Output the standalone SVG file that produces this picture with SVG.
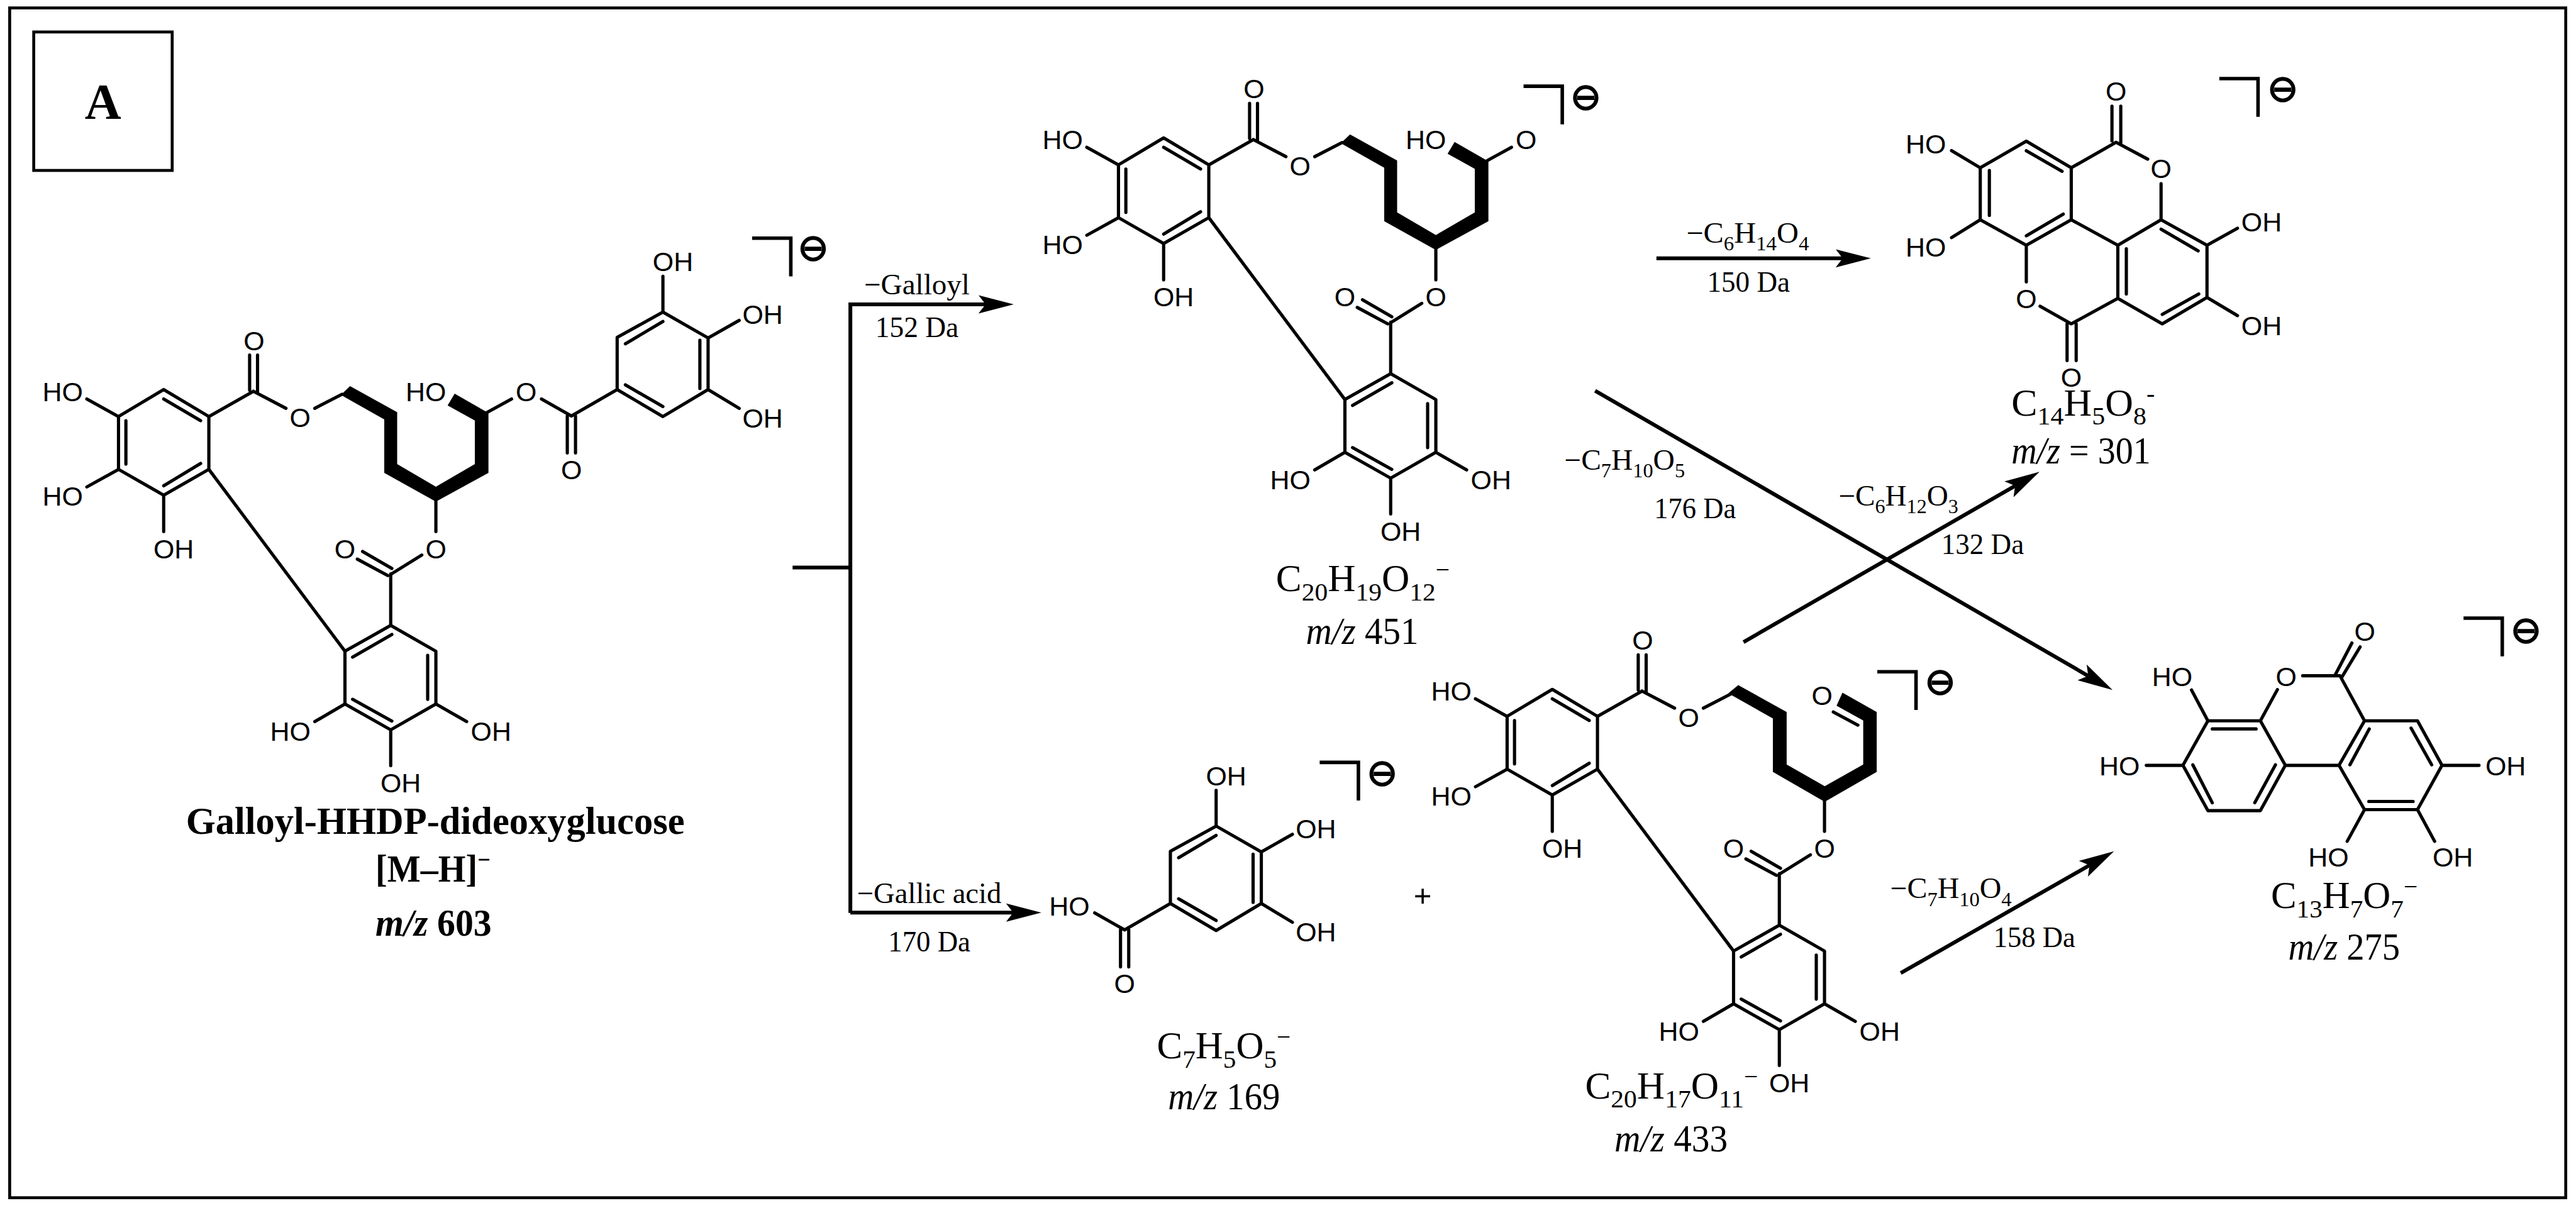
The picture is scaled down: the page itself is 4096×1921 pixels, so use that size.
<svg xmlns="http://www.w3.org/2000/svg" width="4096" height="1921" viewBox="0 0 4096 1921">
<style>
.b{fill:none;stroke:#000;stroke-width:5.5;stroke-linecap:round;stroke-linejoin:round}
.k{fill:#000;stroke:none}
.c{fill:none;stroke:#000;stroke-width:6.5}
.cd{fill:none;stroke:#000;stroke-width:6.5;marker-end:url(#head)}
text{fill:#000}
.a{font-family:"Liberation Sans",Arial,sans-serif;font-size:46px;text-anchor:middle}
.m{font-family:"DejaVu Sans",sans-serif;font-size:63px;text-anchor:middle;stroke:#000;stroke-width:2}
.f{font-family:"Liberation Serif","Times New Roman",serif;font-size:65px}
.l{font-family:"Liberation Serif","Times New Roman",serif;font-size:50px}
.sb{font-size:44px}
.ss{font-size:34px}
.up{font-size:42px}
.i{font-style:italic}
.w{font-weight:bold}
</style>
<defs>
<marker id="head" markerUnits="userSpaceOnUse" markerWidth="64" markerHeight="36" refX="12" refY="18" orient="auto"><path d="M0,2.5 L60,18 L0,33.5 L12,18Z" fill="#000"/></marker>
<path id="hhdp" class="b" d="M279,664 L356,710 L356,800 L279,844 L202,800 L202,710Z M279,680 L342,717 M214.6,717 L214.6,791 M279,828 L342,790 M202,710 L148,680 M202,800 L148,830 M279,844 L279,906 M356,800 L588,1110 M356,710 L432,667 M425.5,605 L425.5,665 M439,605 L439,668 M432,667 L487.5,696 M536.5,696 L583,672 M743,854 L743,906 M719,946 L666,979 M618,940 L668,969 M609,953 L661,981 M666,978 L666,1066 L743,1110 L743,1200 L666,1244 L588,1200 L588,1110 L666,1066 M668,1081.5 L601,1120 M729,1117 L729,1192 M668,1229 L601,1192 M743,1200 L795.5,1230 M588,1200 L536.5,1230 M666,1244 L666,1305"/>
<path id="chain" class="k" d="M596.7,658 L677,702.7 L677,791 L743,829.6 L809.4,791 L809.4,716.7 L763,691 L775,671 L832.6,704 L832.6,806 L743,855 L655,806 L655,715 L581,673Z"/>
<path id="gal" class="b" d="M1052,664 L1052,575 L1130,532 L1207,576 L1207,664 L1130,710Z M1066,586 L1130,548 M1193,580 L1193,662 M1066,656 L1130,693 M1130,532 L1130,471 M1207,576 L1260,546 M1207,664 L1260,696 M974,709 L1052,664 M923,680 L974,709 M967,709 L967,772 M981,709 L981,772"/>
<path id="brk" fill="none" stroke="#000" stroke-width="6" d="M-66,0 H0 V65"/>
</defs>
<g transform="scale(0.93282,0.93298)">
<rect x="0" y="0" width="4391" height="2059" fill="#fff"/>
<rect x="16.5" y="13.5" width="4357" height="2028" fill="none" stroke="#000" stroke-width="5"/>
<g id="panel-label">
<rect x="57.5" y="54.5" width="236" height="236" fill="none" stroke="#000" stroke-width="5"/>
<text class="f w" x="175.5" y="203" text-anchor="middle" style="font-size:86px">A</text>
</g>

<g id="connectors">
<path class="c" d="M1351,967.3 H1449"/>
<path class="cd" d="M1449.5,1556 V518.7 H1680"/>
<path class="cd" d="M1449.5,1555.5 H1727"/>
<path class="cd" d="M2823.5,440.3 H3141"/>
<path class="cd" d="M2719,666 L3559.5,1152"/>
<path class="cd" d="M2972,1094.4 L3434.9,828"/>
<path class="cd" d="M3240,1658.5 L3561.8,1474.8"/>
<text class="l" x="1473" y="502" textLength="180" lengthAdjust="spacingAndGlyphs">−Galloyl</text>
<text class="l" x="1492" y="574" textLength="142" lengthAdjust="spacingAndGlyphs">152 Da</text>
<text class="l" x="1461" y="1538.8" textLength="246" lengthAdjust="spacingAndGlyphs">−Gallic acid</text>
<text class="l" x="1514" y="1622" textLength="140" lengthAdjust="spacingAndGlyphs">170 Da</text>
<text class="l" x="2874.5" y="413.5" textLength="209" lengthAdjust="spacingAndGlyphs">−C<tspan class="ss" dy="13">6</tspan><tspan dy="-13">H</tspan><tspan class="ss" dy="13">14</tspan><tspan dy="-13">O</tspan><tspan class="ss" dy="13">4</tspan></text>
<text class="l" x="2910" y="497.7" textLength="141" lengthAdjust="spacingAndGlyphs">150 Da</text>
<text class="l" x="2666.5" y="801" textLength="205.5" lengthAdjust="spacingAndGlyphs">−C<tspan class="ss" dy="13">7</tspan><tspan dy="-13">H</tspan><tspan class="ss" dy="13">10</tspan><tspan dy="-13">O</tspan><tspan class="ss" dy="13">5</tspan></text>
<text class="l" x="2819.6" y="883" textLength="139.4" lengthAdjust="spacingAndGlyphs">176 Da</text>
<text class="l" x="3134" y="862" textLength="204" lengthAdjust="spacingAndGlyphs">−C<tspan class="ss" dy="13">6</tspan><tspan dy="-13">H</tspan><tspan class="ss" dy="13">12</tspan><tspan dy="-13">O</tspan><tspan class="ss" dy="13">3</tspan></text>
<text class="l" x="3309" y="944" textLength="141" lengthAdjust="spacingAndGlyphs">132 Da</text>
<text class="l" x="3222" y="1531" textLength="207" lengthAdjust="spacingAndGlyphs">−C<tspan class="ss" dy="13">7</tspan><tspan dy="-13">H</tspan><tspan class="ss" dy="13">10</tspan><tspan dy="-13">O</tspan><tspan class="ss" dy="13">4</tspan></text>
<text class="l" x="3398" y="1614" textLength="139.5" lengthAdjust="spacingAndGlyphs">158 Da</text>
</g>

<g id="mol-603">
<use href="#hhdp"/><use href="#chain"/><use href="#gal"/>
<path class="b" d="M830,703 L872,680"/>
<text class="a" x="107" y="683.5">HO</text><text class="a" x="107" y="861.5">HO</text><text class="a" x="296" y="951.5">OH</text>
<text class="a" x="433" y="596.5">O</text><text class="a" x="511.5" y="728">O</text><text class="a" x="726" y="683.5">HO</text><text class="a" x="897" y="683.5">O</text>
<text class="a" x="743" y="951.5">O</text><text class="a" x="588" y="951.5">O</text><text class="a" x="495" y="1262.5">HO</text><text class="a" x="837" y="1262.5">OH</text><text class="a" x="683" y="1350.5">OH</text>
<text class="a" x="974" y="816.5">O</text><text class="a" x="1147" y="462.5">OH</text><text class="a" x="1300" y="552.5">OH</text><text class="a" x="1300" y="728.5">OH</text>
<use href="#brk" x="1348" y="406"/><text class="m" x="1386" y="444">⊖</text>
<text class="f w" x="317" y="1421.7" textLength="850" lengthAdjust="spacingAndGlyphs">Galloyl-HHDP-dideoxyglucose</text>
<text class="f w" x="640" y="1503" textLength="196" lengthAdjust="spacingAndGlyphs">[M–H]<tspan class="up" dy="-24">−</tspan></text>
<text class="f w" x="640" y="1595" textLength="198" lengthAdjust="spacingAndGlyphs"><tspan class="i">m/z</tspan> 603</text>
</g>

<g id="mol-451">
<g transform="translate(1704.5,-429)">
<use href="#hhdp"/><use href="#chain"/>
<path class="b" d="M830,703 L872,680"/>
<text class="a" x="107" y="683.5">HO</text><text class="a" x="107" y="861.5">HO</text><text class="a" x="296" y="951.5">OH</text>
<text class="a" x="433" y="596.5">O</text><text class="a" x="511.5" y="728">O</text><text class="a" x="726" y="683.5">HO</text><text class="a" x="897" y="683.5">O</text>
<text class="a" x="743" y="951.5">O</text><text class="a" x="588" y="951.5">O</text><text class="a" x="495" y="1262.5">HO</text><text class="a" x="837" y="1262.5">OH</text><text class="a" x="683" y="1350.5">OH</text>
</g>
<use href="#brk" x="2663" y="147"/><text class="m" x="2703" y="187">⊖</text>
<text class="f" x="2175" y="1007.7" textLength="296" lengthAdjust="spacingAndGlyphs">C<tspan class="sb" dy="16">20</tspan><tspan dy="-16">H</tspan><tspan class="sb" dy="16">19</tspan><tspan dy="-16">O</tspan><tspan class="sb" dy="16">12</tspan><tspan class="up" dy="-39">−</tspan></text>
<text class="f" x="2226" y="1098" textLength="192" lengthAdjust="spacingAndGlyphs"><tspan class="i">m/z</tspan> 451</text>
</g>

<g id="mol-169">
<g transform="translate(943,876)">
<use href="#gal"/>
<text class="a" x="880" y="685">HO</text>
<text class="a" x="974" y="816.5">O</text><text class="a" x="1147" y="462.5">OH</text><text class="a" x="1300" y="552.5">OH</text><text class="a" x="1300" y="728.5">OH</text>
</g>
<use href="#brk" x="2315.5" y="1299.5"/><text class="m" x="2356" y="1339">⊖</text>
<text class="f" x="1972" y="1804" textLength="228" lengthAdjust="spacingAndGlyphs">C<tspan class="sb" dy="16">7</tspan><tspan dy="-16">H</tspan><tspan class="sb" dy="16">5</tspan><tspan dy="-16">O</tspan><tspan class="sb" dy="16">5</tspan><tspan class="up" dy="-39">−</tspan></text>
<text class="f" x="1991" y="1891" textLength="191" lengthAdjust="spacingAndGlyphs"><tspan class="i">m/z</tspan> 169</text>
</g>

<text class="f w" x="2425" y="1546" text-anchor="middle" style="font-size:55px">+</text>

<g id="mol-433">
<g transform="translate(2367,511)">
<use href="#hhdp"/>
<text class="a" x="107" y="683.5">HO</text><text class="a" x="107" y="861.5">HO</text><text class="a" x="296" y="951.5">OH</text>
<text class="a" x="433" y="596.5">O</text><text class="a" x="511.5" y="728">O</text><text class="a" x="738.8" y="690.5">O</text>
<text class="a" x="743" y="951.5">O</text><text class="a" x="588" y="951.5">O</text><text class="a" x="495" y="1262.5">HO</text><text class="a" x="837" y="1262.5">OH</text><text class="a" x="683" y="1350.5">OH</text>
</g>
<path class="k" d="M3140.6,1180.5 L3199,1213.6 L3199,1315.7 L3110.4,1366.7 L3022,1315.7 L3022,1224.5 L2946,1181.8 L2963,1167.7 L3045.5,1213.6 L3045.5,1303 L3110.4,1340 L3176,1303 L3176,1228 L3130.5,1202.8Z"/>
<path class="b" d="M3125,1213.6 L3167,1236"/>
<use href="#brk" x="3266" y="1145"/><text class="m" x="3307" y="1183">⊖</text>
<text class="f" x="2702" y="1872" textLength="294.6" lengthAdjust="spacingAndGlyphs">C<tspan class="sb" dy="16">20</tspan><tspan dy="-16">H</tspan><tspan class="sb" dy="16">17</tspan><tspan dy="-16">O</tspan><tspan class="sb" dy="16">11</tspan><tspan class="up" dy="-39">−</tspan></text>
<text class="f" x="2752" y="1963" textLength="193" lengthAdjust="spacingAndGlyphs"><tspan class="i">m/z</tspan> 433</text>
</g>

<g id="mol-301">
<path class="b" d="M3454,240.7 L3530.6,286 L3530.6,374.6 L3454,418 L3375.5,374.6 L3375.5,286Z M3454,257 L3515,292 M3391,290.5 L3391,367 M3454,402 L3517,365 M3530.6,286 L3607,242.6 L3661,271.3 M3600,181 L3600,240 M3615,181 L3615,244 M3683.7,313 L3683.7,374.6 L3762,418 L3762,507 L3685.7,552 L3610,508.6 L3610,418 L3683.7,374.6 M3530.6,374.6 L3610,418 M3454,418 L3454,480.5 M3477.5,522 L3530.6,552 L3610,508.6 M3523.5,552 L3523.5,614.5 M3539,552 L3539,614.5 M3683.7,390.6 L3747,427.6 M3624.5,424 L3624.5,501 M3685.7,536 L3748,501 M3375.5,286 L3326.5,256.7 M3375.5,374.6 L3326.5,405 M3762,418 L3814,389 M3762,507 L3814,538"/>
<text class="a" x="3607" y="171">O</text><text class="a" x="3683.7" y="303.8">O</text><text class="a" x="3454" y="525.5">O</text><text class="a" x="3530.6" y="659">O</text>
<text class="a" x="3282.6" y="261">HO</text><text class="a" x="3282.6" y="437.5">HO</text><text class="a" x="3855" y="394.5">OH</text><text class="a" x="3855" y="571.5">OH</text>
<use href="#brk" x="3849" y="134"/><text class="m" x="3891" y="173">⊖</text>
<text class="f" x="3428.6" y="708" textLength="244.4" lengthAdjust="spacingAndGlyphs">C<tspan class="sb" dy="16">14</tspan><tspan dy="-16">H</tspan><tspan class="sb" dy="16">5</tspan><tspan dy="-16">O</tspan><tspan class="sb" dy="16">8</tspan><tspan class="up" dy="-39">-</tspan></text>
<text class="f" x="3428.6" y="790" textLength="237.4" lengthAdjust="spacingAndGlyphs"><tspan class="i">m/z</tspan> = 301</text>
</g>

<g id="mol-275">
<path class="b" d="M3763.5,1228.6 L3853,1228.6 L3895.5,1304.5 L3853,1381.7 L3763.5,1381.7 L3721,1304.5Z M3895.5,1304.5 L3987,1304.5 L4030.5,1228.6 L4120.8,1228.6 L4162.6,1304.5 L4120.8,1380 L4030.5,1380 L3987,1304.5 M4030.5,1228.6 L3988.7,1151.8 L3925,1151.8 M3882,1175.4 L3853,1228.6 M3981,1149.5 L4009,1096 M3992,1154 L4023,1102.7 M3763.5,1228.6 L3735.6,1176 M3721,1304.5 L3658.5,1304.5 M4162.6,1304.5 L4225.7,1304.5 M4030.5,1380 L4001,1434 M4120.8,1380 L4150,1434 M3771,1242.4 L3845.7,1242.4 M3737.8,1303.6 L3771,1368.3 M3843.4,1368.3 L3878.7,1303.6 M4038.6,1242.4 L4005.6,1303.6 M4109.8,1241 L4145,1303.6 M4037.8,1366 L4113.4,1366"/>
<text class="a" x="4031" y="1092.5">O</text><text class="a" x="3897" y="1169">O</text><text class="a" x="3702.6" y="1169">HO</text><text class="a" x="3613" y="1322">HO</text><text class="a" x="4271" y="1322">OH</text><text class="a" x="3969" y="1476.5">HO</text><text class="a" x="4181" y="1476.5">OH</text>
<use href="#brk" x="4265.3" y="1053.6"/><text class="m" x="4305.6" y="1095">⊖</text>
<text class="f" x="3871" y="1548" textLength="250" lengthAdjust="spacingAndGlyphs">C<tspan class="sb" dy="16">13</tspan><tspan dy="-16">H</tspan><tspan class="sb" dy="16">7</tspan><tspan dy="-16">O</tspan><tspan class="sb" dy="16">7</tspan><tspan class="up" dy="-39">−</tspan></text>
<text class="f" x="3900.6" y="1636" textLength="190.4" lengthAdjust="spacingAndGlyphs"><tspan class="i">m/z</tspan> 275</text>
</g>
</g>
</svg>
